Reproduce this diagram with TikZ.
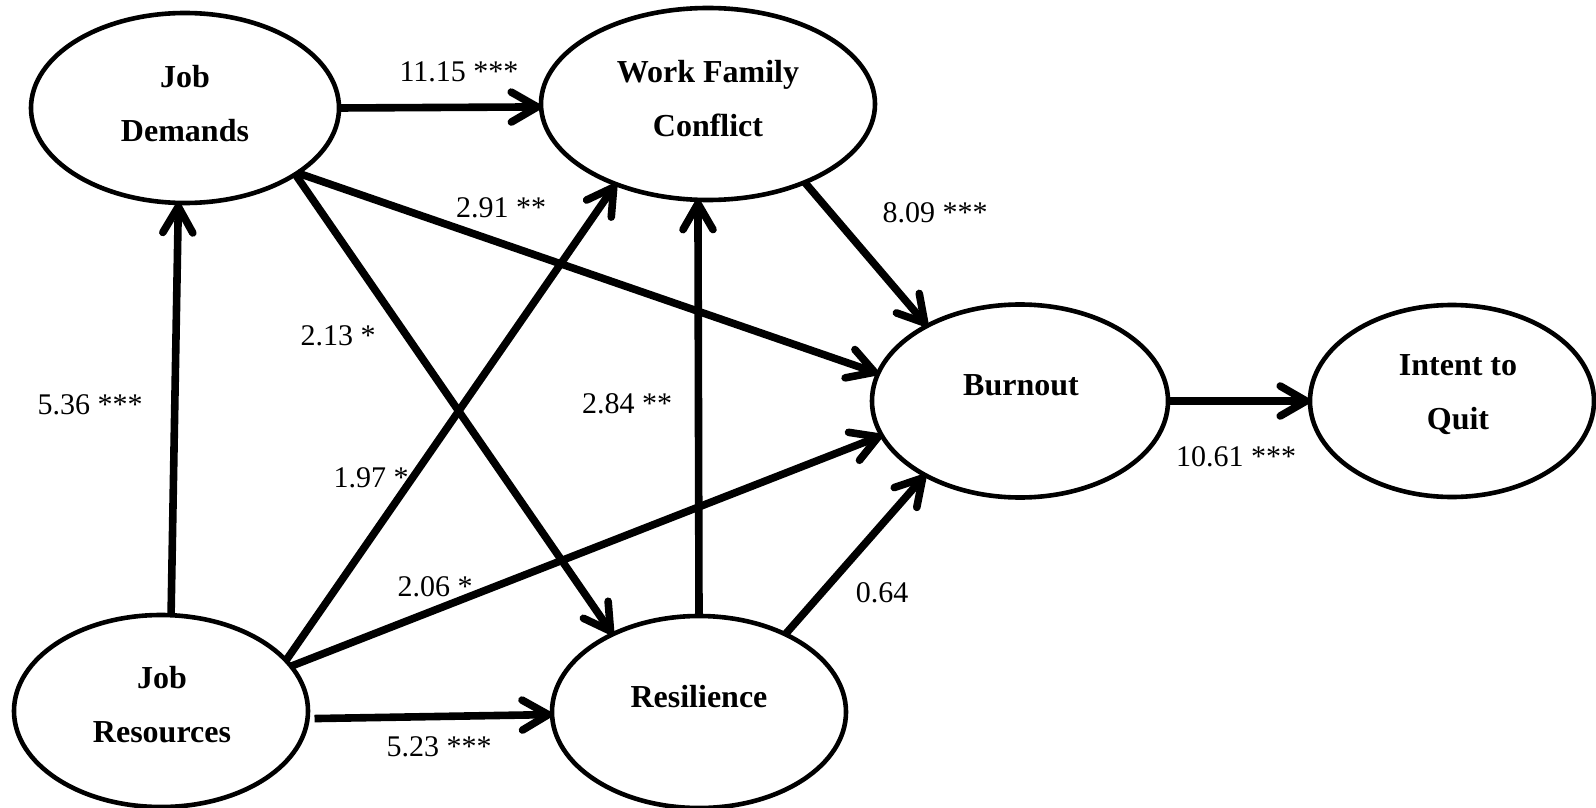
\documentclass[tikz,border=0pt]{standalone}
\usepackage{fontspec}
\setmainfont{Liberation Serif}
\usetikzlibrary{arrows.meta,shapes.geometric}
\begin{document}
\begin{tikzpicture}[x=0.5pt,y=-0.5pt,
  latent/.style={ellipse, draw, line width=2.3pt, inner sep=0pt, outer sep=0pt},
  vname/.style={font=\fontsize{16}{27}\selectfont\bfseries, align=center, inner sep=0pt},
  coef/.style={font=\fontsize{15}{18}\selectfont, inner sep=0pt},
  effect/.style={line width=3.8pt, -{Straight Barb[length=13pt,width=15pt,round]}}
]
% canvas
\fill[white] (0,0) rectangle (1596,808);
\useasboundingbox (0,0) rectangle (1596,808);

% latent variables
\node[latent, minimum width=154pt, minimum height=95pt] (jd)  at (185,108) {};
\node[latent, minimum width=167pt, minimum height=96pt] (wfc) at (708,104) {};
\node[latent, minimum width=148pt, minimum height=96.5pt] (bo) at (1020,401) {};
\node[latent, minimum width=142pt, minimum height=96pt] (itq) at (1452,401) {};
\node[latent, minimum width=147pt, minimum height=96pt] (jr)  at (161,711) {};
\node[latent, minimum width=147pt, minimum height=96pt] (res) at (699,712) {};

% variable names
\node[vname] (jd-t)  at (185,103.5) {Job\\Demands};
\node[vname] (wfc-t) at (708,99)    {Work Family\\Conflict};
\node[vname] (bo-t)  at (1021,385)  {Burnout};
\node[vname] (itq-t) at (1458,394.5){Intent to\\Quit};
\node[vname] (jr-t)  at (162,705)   {Job\\Resources};
\node[vname] (res-t) at (699,697)   {Resilience};

% structural paths
\draw[effect] (jr.84) -- (jd.266);
\draw[effect] (jd.east) -- (wfc.181.7);
\draw[effect] (jd.330.5) -- (bo.169.1);
\draw[effect] (jd.329.1) -- (res.138.2);
\draw[effect] (jr.22.7) -- (wfc.221.5);
\draw[effect] (jr.19.6) -- (bo.194.4);
\draw[effect, shorten <=3.5pt] (jr.357.7) -- (res.181.2);
\draw[effect] (res.north) -- (wfc.264.9);
\draw[effect] (res.42.1) -- (bo.218.4);
\draw[effect] (wfc.321.8) -- (bo.141.9);
\draw[effect] (bo.east) -- (itq.west);

% path coefficients
\node[coef] (c1)  at (459,72)   {11.15 ***};
\node[coef] (c2)  at (501,208)  {2.91 **};
\node[coef] (c3)  at (935,213)  {8.09 ***};
\node[coef] (c4)  at (338,336)  {2.13 *};
\node[coef] (c5)  at (90,405)   {5.36 ***};
\node[coef] (c6)  at (627,404)  {2.84 **};
\node[coef] (c7)  at (371,478)  {1.97 *};
\node[coef] (c8)  at (435,587)  {2.06 *};
\node[coef] (c9)  at (882,593)  {0.64};
\node[coef] (c10) at (1236,457) {10.61 ***};
\node[coef] (c11) at (439,747)  {5.23 ***};
\end{tikzpicture}
\end{document}
